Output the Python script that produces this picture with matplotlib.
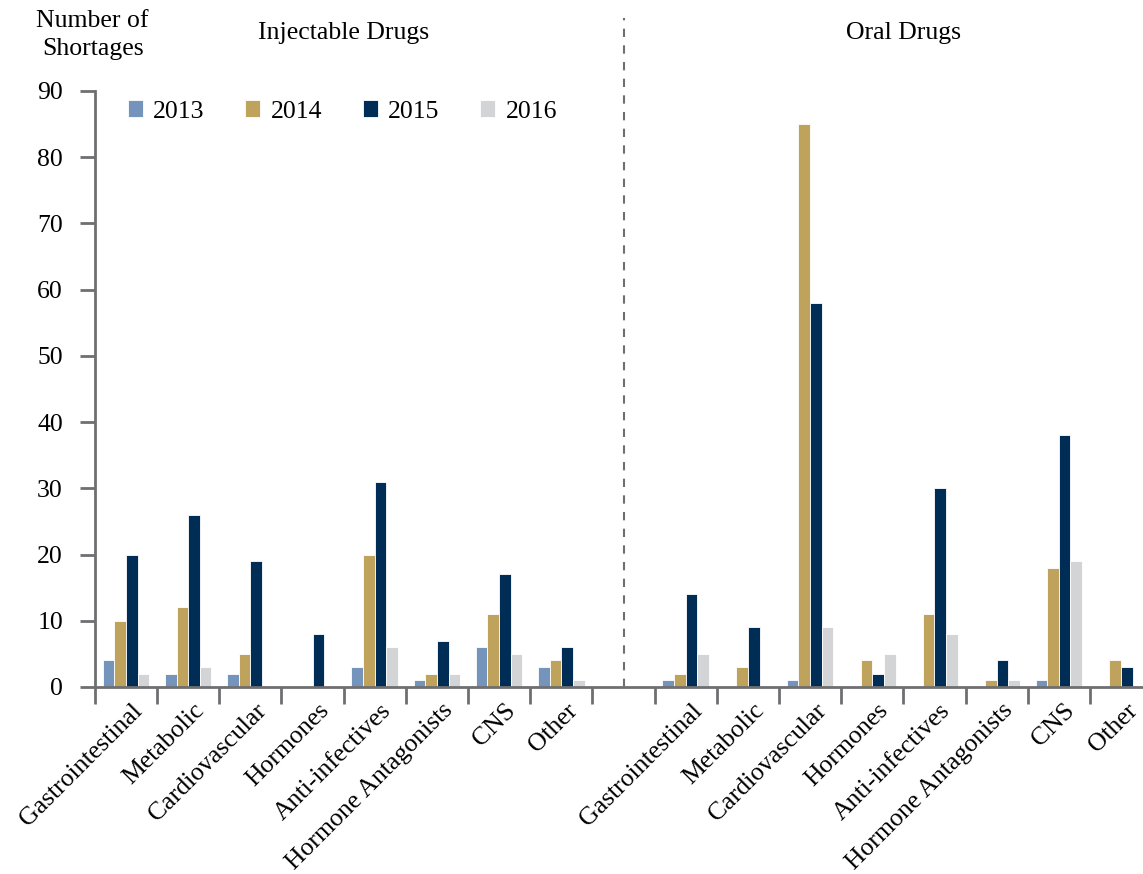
import numpy as np
import matplotlib
matplotlib.use('Agg')
import matplotlib.pyplot as plt

plt.rcParams['font.family'] = ['Liberation Serif', 'DejaVu Serif']

# Kategori obat (sama untuk injectable dan oral)
categories = ['Gastrointestinal', 'Metabolic', 'Cardiovascular', 'Hormones',
              'Anti-infectives', 'Hormone Antagonists', 'CNS', 'Other']
years = ['2013', '2014', '2015', '2016']

# Injectable drugs, per tahun
inj_2013 = [4, 2, 2, 0, 3, 1, 6, 3]
inj_2014 = [10, 12, 5, 0, 20, 2, 11, 4]
inj_2015 = [20, 26, 19, 8, 31, 7, 17, 6]
inj_2016 = [2, 3, 0, 0, 6, 2, 5, 1]

# Oral drugs, per tahun
oral_2013 = [1, 0, 1, 0, 0, 0, 1, 0]
oral_2014 = [2, 3, 85, 4, 11, 1, 18, 4]
oral_2015 = [14, 9, 58, 2, 30, 4, 38, 3]
oral_2016 = [5, 0, 9, 5, 8, 1, 19, 0]

colors = ['#7594bb', '#bfa25c', '#002d56', '#d3d4d6']
axis_gray = '#6f6f71'
fs = 18.5

inj = [inj_2013, inj_2014, inj_2015, inj_2016]
oral = [oral_2013, oral_2014, oral_2015, oral_2016]

n = len(categories)
x_inj = np.arange(n)
x_oral = np.arange(n) + n + 1   # satu slot kosong di tengah
bar_w = 0.187

fig = plt.figure(figsize=(11.43, 8.74), dpi=100)
ax = fig.add_axes([0.083, 0.214, 0.925, 0.682])

for i, year in enumerate(years):
    off = (i - 1.5) * bar_w
    ax.bar(x_inj + off, inj[i], width=bar_w, color=colors[i],
           edgecolor='white', linewidth=0.6, label=year)
    ax.bar(x_oral + off, oral[i], width=bar_w, color=colors[i],
           edgecolor='white', linewidth=0.6)

ax.set_xlim(-0.5, 2 * n + 0.5)
ax.set_ylim(0, 90)
ax.set_yticks(np.arange(0, 91, 10))

# tick di batas kategori, label di tengah kategori
ax.set_xticks(np.arange(-0.5, 2 * n + 1, 1.0))
ax.set_xticklabels([])
ax.set_xticks(np.concatenate([x_inj, x_oral]) + 0.08, minor=True)
ax.set_xticklabels(categories + categories, minor=True, rotation=45,
                   ha='right', rotation_mode='anchor', fontsize=fs)
ax.tick_params(axis='x', which='minor', length=0, pad=9)
ax.tick_params(axis='x', which='major', length=12, width=2, color=axis_gray)
ax.tick_params(axis='y', length=11, width=2, color=axis_gray, labelsize=fs, pad=12)

for side in ['top', 'right']:
    ax.spines[side].set_visible(False)
for side in ['left', 'bottom']:
    ax.spines[side].set_color(axis_gray)
    ax.spines[side].set_linewidth(2)

# garis pemisah putus-putus
ax.plot([n, n], [0, 101], linestyle=(0, (4, 4)), color=axis_gray,
        linewidth=1.5, clip_on=False)

ax.text((n - 1) / 2, 98.8, 'Injectable Drugs', ha='center', va='center', fontsize=fs)
ax.text(n + 1 + (n - 1) / 2, 98.8, 'Oral Drugs', ha='center', va='center', fontsize=fs)
fig.text(0.081, 0.96, 'Number of\nShortages', ha='center', va='center',
         fontsize=fs, linespacing=1.35)

ax.legend(loc='upper left', bbox_to_anchor=(0.009, 1.023), ncol=4, frameon=False,
          fontsize=fs, handlelength=0.6, handleheight=0.6, handletextpad=0.4,
          columnspacing=1.57)

fig.savefig('out.png', dpi=100)
